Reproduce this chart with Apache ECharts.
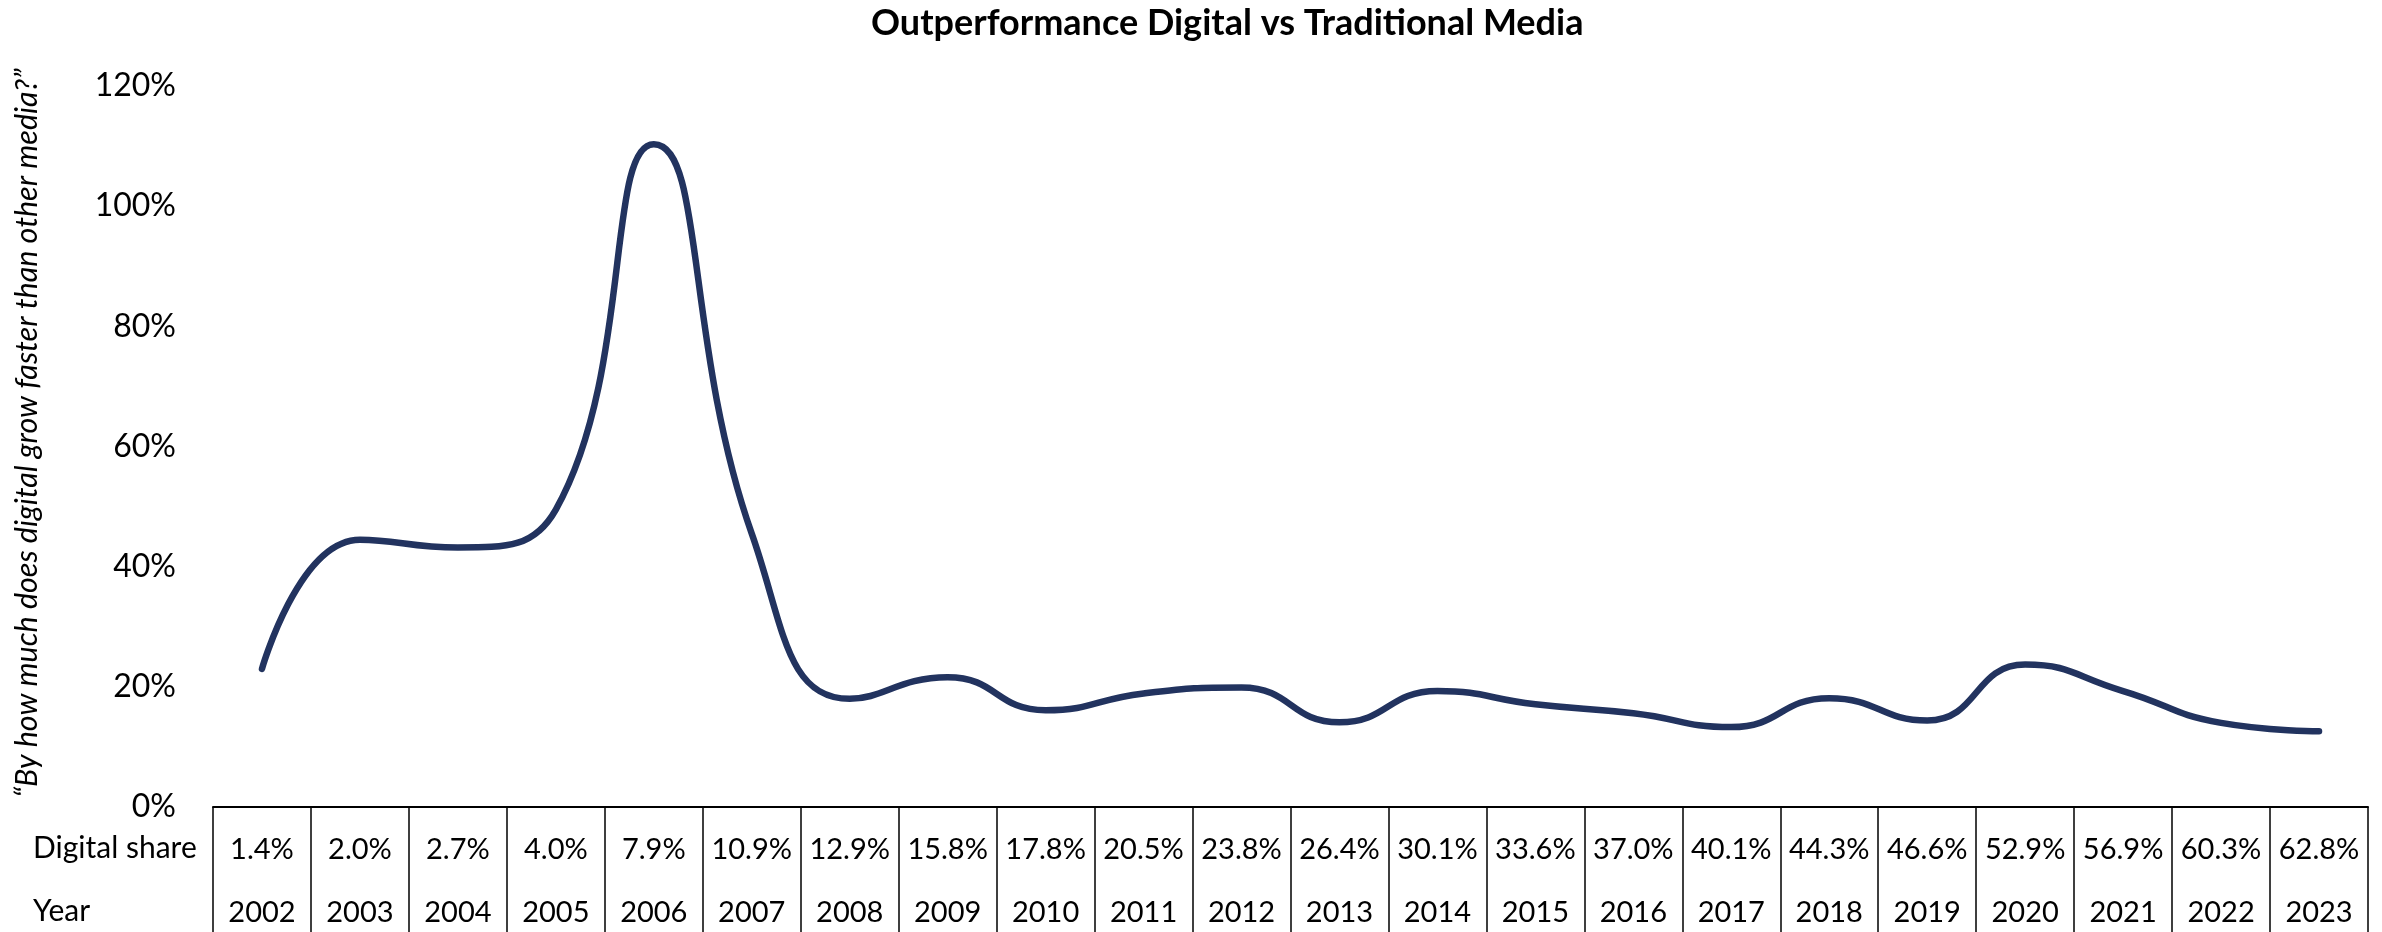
<!DOCTYPE html>
<html lang="en">
<head>
  <meta charset="UTF-8">
  <title>Outperformance Digital vs Traditional Media</title>
  <script src="https://cdn.jsdelivr.net/npm/echarts@6.0.0/dist/echarts.min.js"></script>
  <style>
    html, body { margin: 0; padding: 0; background: #fff; }
  </style>
</head>
<body>
  <div id="main" style="width: 2382px;height:932px;"></div>
  <script type="text/javascript">
    // Data
    const years = ['2002', '2003', '2004', '2005', '2006', '2007', '2008', '2009', '2010', '2011', '2012',
                   '2013', '2014', '2015', '2016', '2017', '2018', '2019', '2020', '2021', '2022', '2023'];
    const digitalShare = ['1.4%', '2.0%', '2.7%', '4.0%', '7.9%', '10.9%', '12.9%', '15.8%', '17.8%', '20.5%', '23.8%',
                          '26.4%', '30.1%', '33.6%', '37.0%', '40.1%', '44.3%', '46.6%', '52.9%', '56.9%', '60.3%', '62.8%'];
    // outperformance of digital vs other media, in %
    const outperformance = [23, 44.5, 43.2, 49.5, 110.3, 45.5, 18, 21.6, 16.1, 18.9, 19.9,
                            14.1, 19.3, 17.1, 15.6, 13.3, 18.1, 14.4, 23.7, 19.3, 14, 12.6];
    const yTicks = [0, 20, 40, 60, 80, 100, 120];

    var myChart = echarts.init(document.getElementById('main'));

    var option = {
      animation: false,
      backgroundColor: '#ffffff',
      title: {
        text: 'Outperformance Digital vs Traditional Media',
        left: 866,
        top: 0,
        textStyle: {
          fontFamily: 'Lato',
          fontWeight: 'bold',
          fontSize: 36,
          color: '#000'
        }
      },
      grid: {
        left: 213,
        right: 14,
        top: 86,
        bottom: 125
      },
      xAxis: {
        type: 'category',
        data: years,
        boundaryGap: true,
        axisLine: { lineStyle: { color: '#000', width: 2 } },
        axisTick: {
          show: true,
          interval: 0,
          length: 130,
          lineStyle: { color: '#000', width: 1.5 }
        },
        axisLabel: {
          interval: 0,
          margin: 11,
          formatter: function (val, idx) {
            return '{a|' + digitalShare[idx] + '}\n{b|' + val + '}';
          },
          rich: {
            a: { fontFamily: 'Lato', fontSize: 29, lineHeight: 63, color: '#000' },
            b: { fontFamily: 'Lato', fontSize: 29, lineHeight: 63, color: '#000' }
          }
        },
        splitLine: { show: false }
      },
      yAxis: {
        type: 'value',
        min: yTicks[0],
        max: yTicks[yTicks.length - 1],
        interval: 20,
        axisLine: { show: false },
        axisTick: { show: false },
        splitLine: { show: false },
        axisLabel: {
          margin: 37,
          fontFamily: 'Lato',
          fontSize: 32,
          color: '#000',
          formatter: '{value}%'
        }
      },
      graphic: [
        {
          type: 'text',
          left: 33,
          top: 833,
          style: { text: 'Digital share', fontFamily: 'Lato', fontSize: 30, fill: '#000' }
        },
        {
          type: 'text',
          left: 33,
          top: 896,
          style: { text: 'Year', fontFamily: 'Lato', fontSize: 30, fill: '#000' }
        },
        {
          type: 'text',
          x: 27,
          y: 433,
          rotation: Math.PI / 2,
          style: {
            text: '\u201CBy how much does digital grow faster than other media?\u201D',
            fontFamily: 'Lato',
            fontStyle: 'italic',
            fontSize: 30.5,
            fill: '#000',
            align: 'center',
            verticalAlign: 'middle'
          }
        }
      ],
      series: [
        {
          name: 'Outperformance',
          type: 'line',
          data: outperformance,
          smooth: 0.5,
          symbol: 'none',
          lineStyle: { color: '#22335f', width: 6.5, cap: 'round' }
        }
      ]
    };

    myChart.setOption(option);
  </script>
</body>
</html>
